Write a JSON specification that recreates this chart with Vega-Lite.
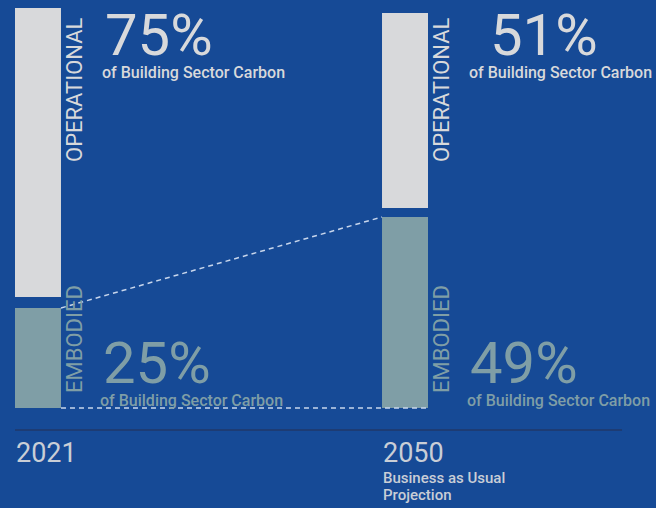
{
  "$schema": "https://vega.github.io/schema/vega-lite/v6.json",
  "width": 656,
  "height": 508,
  "padding": 0,
  "autosize": {"type": "none"},
  "background": "#164a96",
  "config": {"view": {"stroke": null}, "font": "Roboto"},
  "datasets": {
    "segments": [
      {"year": "2021", "type": "OPERATIONAL", "share": 0.75, "start": 27.75, "end": 100},
      {"year": "2021", "type": "EMBODIED", "share": 0.25, "start": 0, "end": 25},
      {"year": "2050", "type": "OPERATIONAL", "share": 0.51, "start": 50, "end": 98.75},
      {"year": "2050", "type": "EMBODIED", "share": 0.49, "start": 0, "end": 47.75}
    ],
    "years": [
      {"year": "2021", "note": ""},
      {"year": "2050", "note": "Business as Usual\nProjection"}
    ]
  },
  "layer": [
    {
      "data": {"values": [{}]},
      "mark": {"type": "rule", "color": "#1d3c74", "strokeWidth": 2, "x2Offset": 240},
      "encoding": {
        "x": {"datum": "2021", "type": "nominal", "bandPosition": 0, "axis": null,
              "scale": {"domain": ["2021", "2050"], "range": [15, 428], "paddingInner": 0.8747, "paddingOuter": 0}},
        "x2": {"datum": "2050", "bandPosition": 0},
        "y": {"datum": -5.5, "type": "quantitative", "axis": null, "scale": {"domain": [-25, 102], "nice": false, "zero": false}}
      }
    },
    {
      "data": {"name": "segments"},
      "mark": {"type": "bar"},
      "encoding": {
        "x": {"field": "year", "type": "nominal"},
        "y": {"field": "start", "type": "quantitative"},
        "y2": {"field": "end"},
        "color": {"field": "type", "type": "nominal", "legend": null,
                  "scale": {"domain": ["OPERATIONAL", "EMBODIED"], "range": ["#d8d9db", "#7f9ea6"]}}
      }
    },
    {
      "data": {"values": [{}]},
      "mark": {"type": "rule", "color": "#c8d6ec", "strokeWidth": 1.5, "strokeDash": [5, 4]},
      "encoding": {
        "x": {"datum": "2021", "type": "nominal", "bandPosition": 1},
        "x2": {"datum": "2050", "bandPosition": 0},
        "y": {"datum": 25, "type": "quantitative"},
        "y2": {"datum": 47.75}
      }
    },
    {
      "data": {"values": [{}]},
      "mark": {"type": "rule", "color": "#c8d6ec", "strokeWidth": 1.5, "strokeDash": [5, 4]},
      "encoding": {
        "x": {"datum": "2021", "type": "nominal", "bandPosition": 1},
        "x2": {"datum": "2050", "bandPosition": 1},
        "y": {"datum": 0, "type": "quantitative"}
      }
    },
    {
      "data": {"name": "segments"},
      "transform": [{"filter": "datum.type === 'OPERATIONAL'"}],
      "mark": {"type": "text", "angle": 270, "align": "left", "baseline": "alphabetic", "fontSize": 22, "fontWeight": 400, "xOffset": 67, "yOffset": 154},
      "encoding": {
        "x": {"field": "year", "type": "nominal", "bandPosition": 0},
        "y": {"datum": 100, "type": "quantitative"},
        "text": {"field": "type"},
        "color": {"field": "type", "type": "nominal", "legend": null}
      }
    },
    {
      "data": {"name": "segments"},
      "transform": [{"filter": "datum.type === 'EMBODIED'"}],
      "mark": {"type": "text", "angle": 270, "align": "left", "baseline": "alphabetic", "fontSize": 22, "fontWeight": 400, "xOffset": 67, "yOffset": -15},
      "encoding": {
        "x": {"field": "year", "type": "nominal", "bandPosition": 0},
        "y": {"datum": 0, "type": "quantitative"},
        "text": {"field": "type"},
        "color": {"field": "type", "type": "nominal", "legend": null}
      }
    },
    {
      "data": {"name": "segments"},
      "transform": [{"filter": "datum.type === 'OPERATIONAL' && datum.year === '2021'"}],
      "mark": {"type": "text", "align": "left", "baseline": "alphabetic", "fontSize": 58, "fontWeight": 400, "xOffset": 90, "yOffset": 47},
      "encoding": {
        "x": {"field": "year", "type": "nominal", "bandPosition": 0},
        "y": {"datum": 100, "type": "quantitative"},
        "text": {"field": "share", "type": "quantitative", "format": ".0%"},
        "color": {"field": "type", "type": "nominal", "legend": null}
      }
    },
    {
      "data": {"name": "segments"},
      "transform": [{"filter": "datum.type === 'OPERATIONAL' && datum.year === '2050'"}],
      "mark": {"type": "text", "align": "left", "baseline": "alphabetic", "fontSize": 58, "fontWeight": 400, "xOffset": 108, "yOffset": 47},
      "encoding": {
        "x": {"field": "year", "type": "nominal", "bandPosition": 0},
        "y": {"datum": 100, "type": "quantitative"},
        "text": {"field": "share", "type": "quantitative", "format": ".0%"},
        "color": {"field": "type", "type": "nominal", "legend": null}
      }
    },
    {
      "data": {"name": "segments"},
      "transform": [{"filter": "datum.type === 'EMBODIED'"}],
      "mark": {"type": "text", "align": "left", "baseline": "alphabetic", "fontSize": 58, "fontWeight": 400, "xOffset": 88, "yOffset": -25},
      "encoding": {
        "x": {"field": "year", "type": "nominal", "bandPosition": 0},
        "y": {"datum": 0, "type": "quantitative"},
        "text": {"field": "share", "type": "quantitative", "format": ".0%"},
        "color": {"field": "type", "type": "nominal", "legend": null}
      }
    },
    {
      "data": {"name": "segments"},
      "transform": [{"filter": "datum.type === 'OPERATIONAL'"}],
      "mark": {"type": "text", "align": "left", "baseline": "alphabetic", "fontSize": 16, "fontWeight": 500, "xOffset": 87, "yOffset": 70},
      "encoding": {
        "x": {"field": "year", "type": "nominal", "bandPosition": 0},
        "y": {"datum": 100, "type": "quantitative"},
        "text": {"value": "of Building Sector Carbon"},
        "color": {"field": "type", "type": "nominal", "legend": null}
      }
    },
    {
      "data": {"name": "segments"},
      "transform": [{"filter": "datum.type === 'EMBODIED'"}],
      "mark": {"type": "text", "align": "left", "baseline": "alphabetic", "fontSize": 16, "fontWeight": 500, "xOffset": 85, "yOffset": -2},
      "encoding": {
        "x": {"field": "year", "type": "nominal", "bandPosition": 0},
        "y": {"datum": 0, "type": "quantitative"},
        "text": {"value": "of Building Sector Carbon"},
        "color": {"field": "type", "type": "nominal", "legend": null}
      }
    },
    {
      "data": {"name": "years"},
      "mark": {"type": "text", "align": "left", "baseline": "alphabetic", "fontSize": 27, "fontWeight": 400, "color": "#c9ced6", "xOffset": 1, "yOffset": 54},
      "encoding": {
        "x": {"field": "year", "type": "nominal", "bandPosition": 0},
        "y": {"datum": 0, "type": "quantitative"},
        "text": {"field": "year"}
      }
    },
    {
      "data": {"name": "years"},
      "transform": [{"filter": "datum.note !== ''"}],
      "mark": {"type": "text", "align": "left", "baseline": "alphabetic", "fontSize": 15, "fontWeight": 500, "color": "#c9ced6", "lineBreak": "\n", "lineHeight": 17, "xOffset": 1, "yOffset": 75},
      "encoding": {
        "x": {"field": "year", "type": "nominal", "bandPosition": 0},
        "y": {"datum": 0, "type": "quantitative"},
        "text": {"field": "note"}
      }
    }
  ]
}
